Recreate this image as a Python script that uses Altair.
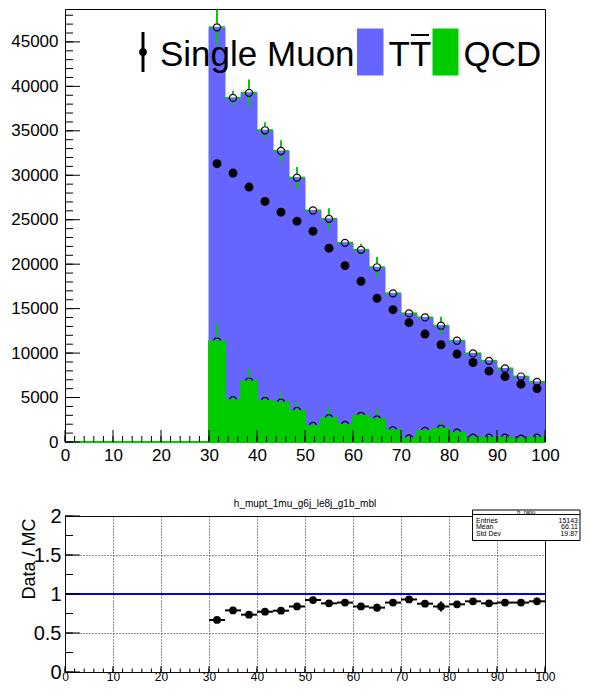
import altair as alt
import pandas as pd
import numpy as np

# ---------------- data ----------------
N_BINS = 30
X_MIN, X_MAX = 0, 100
N_EMPTY = 9  # bins 0..30 are empty

data_vals = [31300, 30250, 28670, 27060, 25850, 24840, 23710, 21800, 19840, 18070,
             16160, 14880, 13420, 12140, 10940, 9890, 8940, 7970, 7360, 6500, 6010]
mc_total_vals = [46640, 38700, 39270, 35060, 32730, 29730, 26040, 25100, 22400, 21610,
                 19650, 16720, 14460, 14010, 13080, 11390, 9960, 9130, 8270, 7360, 6760]
mc_err_vals = [2000, 800, 1500, 900, 1200, 1200, 350, 1200, 450, 700,
               1150, 450, 350, 350, 1000, 350, 350, 350, 350, 350, 350]
qcd_vals = [11310, 4700, 6800, 4620, 4430, 3490, 1800, 2670, 1920, 2930,
            2550, 1320, 410, 1240, 1500, 1050, 490, 490, 490, 370, 490]
qcd_err_vals = [2000, 560, 1400, 680, 1050, 940, 260, 1200, 260, 560,
                1130, 190, 100, 190, 860, 190, 100, 100, 100, 100, 100]
ratio_vals = [0.667, 0.79, 0.735, 0.773, 0.786, 0.84, 0.923, 0.88, 0.89, 0.84,
              0.825, 0.89, 0.93, 0.876, 0.84, 0.868, 0.906, 0.88, 0.89, 0.89, 0.906]
ratio_err_vals = [0.03, 0.02, 0.03, 0.02, 0.03, 0.035, 0.015, 0.04, 0.02, 0.03,
                  0.05, 0.025, 0.025, 0.025, 0.065, 0.03, 0.03, 0.03, 0.035, 0.04, 0.045]

top_y_labels = [0, 5000, 10000, 15000, 20000, 25000, 30000, 35000, 40000, 45000]
top_y_minor = list(range(0, 49000, 1000))
x_labels = [0, 10, 20, 30, 40, 50, 60, 70, 80, 90, 100]
x_minor = list(range(0, 101, 2))
ratio_y_labels = [0, 0.5, 1, 1.5, 2]
ratio_y_minor = [0, 0.25, 0.5, 0.75, 1, 1.25, 1.5, 1.75, 2]

legend_names = ["Single Muon", "TT", "QCD"]
hist_title = "h_mupt_1mu_g6j_le8j_g1b_mbl"
stats_name = "h_ratio"
stats_keys = ["Entries", "Mean", "Std Dev"]
stats_vals = ["15143", "66.11", "19.87"]

BLUE = "#6666ff"
GREEN = "#00cc00"
FONT = "Liberation Sans"

# ---------------- tables ----------------
edges = np.linspace(X_MIN, X_MAX, N_BINS + 1)
pad = [0] * N_EMPTY
df = pd.DataFrame({
    "lo": edges[:-1], "hi": edges[1:], "c": (edges[:-1] + edges[1:]) / 2,
    "data": pad + data_vals, "mc": pad + mc_total_vals, "mc_err": pad + mc_err_vals,
    "qcd": pad + qcd_vals, "qcd_err": pad + qcd_err_vals,
    "ratio": pad + ratio_vals, "ratio_err": pad + ratio_err_vals,
    "filled": [False] * N_EMPTY + [True] * len(data_vals),
})
df["zero"] = 0
df["mc_hi"] = df["mc"] + df["mc_err"]
df["mc_lo"] = df["mc"] - df["mc_err"]
df["qcd_hi"] = df["qcd"] + df["qcd_err"]
df["r_hi"] = df["ratio"] + df["ratio_err"]
df["r_lo"] = df["ratio"] - df["ratio_err"]
filled = df[df["filled"]].reset_index(drop=True)

W = 480
H_TOP = 433
H_R = 156

XS = alt.Scale(domain=[X_MIN, X_MAX], nice=False, zero=False)
YS_TOP = alt.Scale(domain=[0, 48700], nice=False, zero=True)
YS_R = alt.Scale(domain=[0, 2], nice=False, zero=True)

ax_top_x = alt.Axis(title=None, values=x_labels, labelFontSize=17, labelPadding=5,
                    labelFlush=False, labelOverlap=False, grid=False, ticks=False,
                    domain=False, format="d")
ax_top_y = alt.Axis(title=None, values=top_y_labels, labelFontSize=17, labelPadding=7,
                    labelOverlap=False, grid=False, ticks=False, domain=False, format="d")
ax_r_x = alt.Axis(title=None, values=x_labels, labelFontSize=12, labelPadding=-1,
                  labelFlush=False, labelOverlap=False, grid=True, gridDash=[1, 2],
                  gridColor="#222", ticks=False, domain=False, format="d")
ax_r_y = alt.Axis(title="Data / MC", values=ratio_y_labels, labelFontSize=20, labelPadding=4,
                  labelOverlap=False, grid=True, gridDash=[1, 2], gridColor="#222",
                  ticks=False, domain=False, format="~g", titleFontSize=18, titleAngle=270,
                  titleAlign="right", titleBaseline="alphabetic", titleX=-31, titleY=2,
                  titleFontWeight="normal")


def TX(f):
    return alt.X(f, type="quantitative", scale=XS, axis=ax_top_x)


def TY(f):
    return alt.Y(f, type="quantitative", scale=YS_TOP, axis=ax_top_y)


def RX(f):
    return alt.X(f, type="quantitative", scale=XS, axis=ax_r_x)


def RY(f):
    return alt.Y(f, type="quantitative", scale=YS_R, axis=ax_r_y)


base = alt.Chart(df)
basef = alt.Chart(filled)
one = alt.Chart(pd.DataFrame({"k": [0]}))

# ---------------- top panel ----------------
blue_bars = base.mark_rect(color=BLUE, stroke=BLUE, strokeWidth=1).encode(
    x=TX("lo"), x2="hi", y=TY("mc"), y2="zero")
qcd_circ = basef.mark_point(shape="circle", size=50, filled=False, color="black",
                            strokeWidth=1.2, opacity=1).encode(x=TX("c"), y=TY("qcd"))
green_bars = base.mark_rect(color=GREEN, stroke=GREEN, strokeWidth=2).encode(
    x=TX("lo"), x2="hi", y=TY("qcd"), y2="zero")
qcd_err = basef.transform_filter("datum.qcd_err > 450").mark_rule(
    color=GREEN, strokeWidth=2, y2Offset=-4).encode(x=TX("c"), y=TY("qcd_hi"), y2="qcd")

mc_err_up = basef.transform_filter("datum.mc_err > 450").mark_rule(
    color=GREEN, strokeWidth=2, y2Offset=-4).encode(x=TX("c"), y=TY("mc_hi"), y2="mc")
mc_err_dn = basef.transform_filter("datum.mc_err > 450").mark_rule(
    color=GREEN, strokeWidth=2, yOffset=4).encode(x=TX("c"), y=TY("mc"), y2="mc_lo")
mc_err_l = basef.mark_rule(color=GREEN, strokeWidth=2, x2Offset=-4).encode(
    x=TX("lo"), x2="c", y=TY("mc"))
mc_err_r = basef.mark_rule(color=GREEN, strokeWidth=2, xOffset=4).encode(
    x=TX("c"), x2="hi", y=TY("mc"))
mc_circ = basef.mark_point(shape="circle", size=50, filled=False, color="black",
                           strokeWidth=1.2, opacity=1).encode(x=TX("c"), y=TY("mc"))
data_pts = basef.mark_circle(size=80, color="black", opacity=1).encode(
    x=TX("c"), y=TY("data"))

ty_major = alt.Chart(pd.DataFrame({"v": top_y_labels})).mark_rule(color="black").encode(
    x=alt.value(0), x2=alt.value(15), y=TY("v"))
ty_minor = alt.Chart(pd.DataFrame({"v": top_y_minor})).mark_rule(color="black").encode(
    x=alt.value(0), x2=alt.value(8), y=TY("v"))
tx_major = alt.Chart(pd.DataFrame({"v": x_labels})).mark_rule(color="black").encode(
    x=TX("v"), y=alt.value(H_TOP), y2=alt.value(H_TOP - 12))
tx_minor = alt.Chart(pd.DataFrame({"v": x_minor})).mark_rule(color="black").encode(
    x=TX("v"), y=alt.value(H_TOP), y2=alt.value(H_TOP - 6))

leg_bar = one.mark_rule(color="black", strokeWidth=3).encode(
    x=alt.value(78), y=alt.value(23), y2=alt.value(63))
leg_dot = one.mark_circle(size=60, color="black", opacity=1).encode(
    x=alt.value(78), y=alt.value(43))
leg_t1 = one.mark_text(text=legend_names[0], font=FONT, fontSize=35, align="left",
                       baseline="alphabetic", color="black").encode(
    x=alt.value(95), y=alt.value(57))
leg_b = one.mark_rect(color=BLUE).encode(
    x=alt.value(292), x2=alt.value(318.5), y=alt.value(19.5), y2=alt.value(66.5))
leg_t2 = one.mark_text(text=legend_names[1], font=FONT, fontSize=35, align="left",
                       baseline="alphabetic", color="black").encode(
    x=alt.value(323.5), y=alt.value(57))
leg_ov = one.mark_rule(color="black", strokeWidth=2).encode(
    x=alt.value(346), x2=alt.value(364), y=alt.value(26))
leg_g = one.mark_rect(color=GREEN).encode(
    x=alt.value(367.5), x2=alt.value(393.5), y=alt.value(19.5), y2=alt.value(66.5))
leg_t3 = one.mark_text(text=legend_names[2], font=FONT, fontSize=35, align="left",
                       baseline="alphabetic", color="black").encode(
    x=alt.value(398.5), y=alt.value(57))

top = alt.layer(
    blue_bars, qcd_circ, green_bars, qcd_err,
    mc_err_up, mc_err_dn, mc_err_l, mc_err_r, mc_circ, data_pts,
    ty_major, ty_minor, tx_major, tx_minor,
    leg_bar, leg_dot, leg_t1, leg_b, leg_t2, leg_ov, leg_g, leg_t3,
).properties(width=W, height=H_TOP)

# ---------------- ratio panel ----------------
unity = alt.Chart(pd.DataFrame({"a": [X_MIN], "b": [X_MAX], "one": [1]})).mark_rule(
    color="#0000ff", strokeWidth=2).encode(x=RX("a"), x2="b", y=RY("one"))
r_h = basef.mark_rule(color="black", strokeWidth=2).encode(
    x=RX("lo"), x2="hi", y=RY("ratio"))
r_v = basef.mark_rule(color="black", strokeWidth=2).encode(
    x=RX("c"), y=RY("r_lo"), y2="r_hi")
r_pts = basef.mark_circle(size=60, color="black", opacity=1).encode(
    x=RX("c"), y=RY("ratio"))

ry_major = alt.Chart(pd.DataFrame({"v": ratio_y_labels})).mark_rule(color="black").encode(
    x=alt.value(0), x2=alt.value(15), y=RY("v"))
ry_minor = alt.Chart(pd.DataFrame({"v": ratio_y_minor})).mark_rule(color="black").encode(
    x=alt.value(0), x2=alt.value(8), y=RY("v"))
rx_major = alt.Chart(pd.DataFrame({"v": x_labels})).mark_rule(color="black").encode(
    x=RX("v"), y=alt.value(H_R), y2=alt.value(H_R - 6))
rx_minor = alt.Chart(pd.DataFrame({"v": x_minor})).mark_rule(color="black").encode(
    x=RX("v"), y=alt.value(H_R), y2=alt.value(H_R - 3.5))

r_title = one.mark_text(text=hist_title, font=FONT, fontSize=10, align="center",
                        baseline="middle", color="black").encode(
    x=alt.value(W / 2), y=alt.value(-12))

BOX_L, BOX_R = 407.5, 515
sbox = one.mark_rect(fill="white", stroke="black", strokeWidth=1).encode(
    x=alt.value(BOX_L), x2=alt.value(BOX_R), y=alt.value(-6), y2=alt.value(24.5))
ssep = one.mark_rule(color="black", strokeWidth=1).encode(
    x=alt.value(BOX_L), x2=alt.value(BOX_R), y=alt.value(-1.5))
sname = one.mark_text(text=stats_name, font=FONT, fontSize=6, align="center",
                      baseline="middle", color="black").encode(
    x=alt.value((BOX_L + BOX_R) / 2), y=alt.value(-3.8))

stat_rows_y = [5, 11.3, 17.6]
stat_layers = []
for key, val, yy in zip(stats_keys, stats_vals, stat_rows_y):
    stat_layers.append(one.mark_text(text=key, font=FONT, fontSize=7, align="left",
                                     baseline="middle", color="black").encode(
        x=alt.value(BOX_L + 3.5), y=alt.value(yy)))
    stat_layers.append(one.mark_text(text=val, font=FONT, fontSize=7, align="right",
                                     baseline="middle", color="black").encode(
        x=alt.value(BOX_R - 2), y=alt.value(yy)))

ratio = alt.layer(
    unity, r_h, r_v, r_pts, ry_major, ry_minor, rx_major, rx_minor,
    r_title, sbox, ssep, sname, *stat_layers,
).properties(width=W, height=H_R)

chart = alt.vconcat(top, ratio, spacing=74, bounds="flush").properties(
    padding={"left": 2, "top": 0, "right": 0, "bottom": 0}
).configure_view(stroke="black", strokeWidth=1).configure_axis(
    labelFont=FONT, labelColor="black", titleFont=FONT, titleColor="black"
)

chart.save("out.html", embed_options={"renderer": "svg", "actions": False})
